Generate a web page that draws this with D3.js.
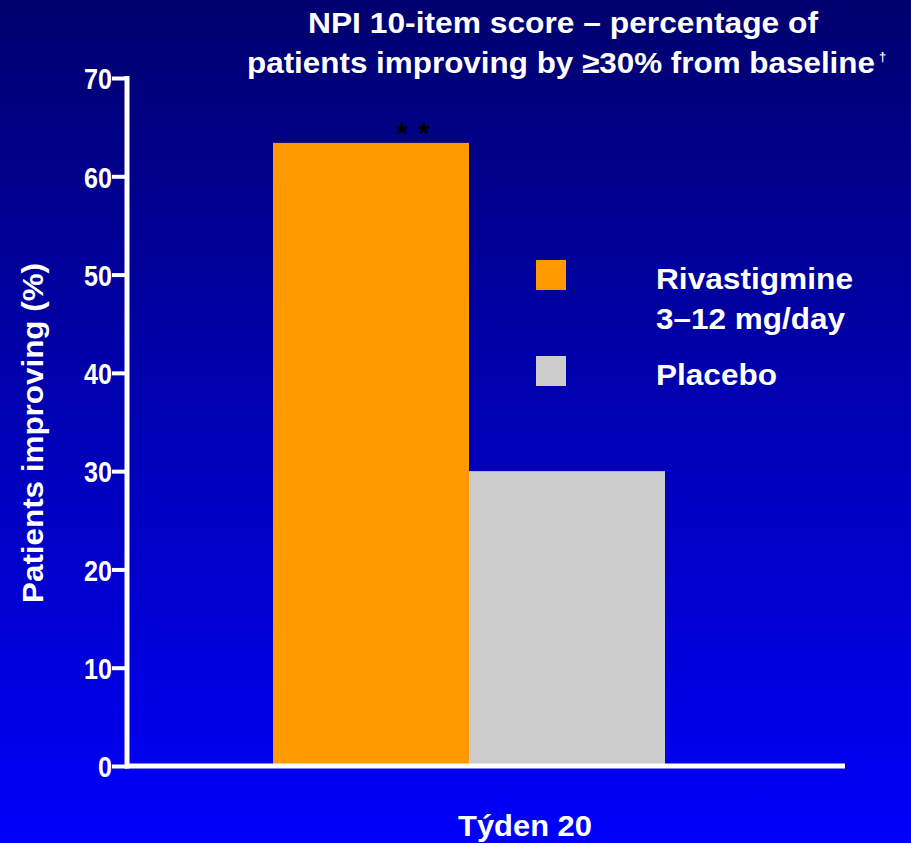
<!DOCTYPE html>
<html>
<head>
<meta charset="utf-8">
<script src="https://cdn.jsdelivr.net/npm/d3@7"></script>
<style>
  html, body { margin: 0; padding: 0; background: #000080; }
  svg { display: block; }
</style>
</head>
<body>
<script>
// Chart data
const categories = ["Rivastigmine 3–12 mg/day", "Placebo"];
const values = [63.4, 30.0];
const colors = ["#FF9900", "#CCCCCC"];
const legendLines = [["Rivastigmine", "3–12 mg/day"], ["Placebo"]];
const yTicks = [0, 10, 20, 30, 40, 50, 60, 70];
const titleLines = ["NPI 10-item score – percentage of", "patients improving by ≥30% from baseline"];
const xLabel = "Týden 20";
const yLabel = "Patients improving (%)";
const significance = ["*", "*"];

const W = 911, H = 843;
const svg = d3.select("body").append("svg").attr("width", W).attr("height", H);

// Background gradient, dark navy at top to bright blue at bottom
const defs = svg.append("defs");
const grad = defs.append("linearGradient").attr("id", "bg").attr("x1", 0).attr("y1", 0).attr("x2", 0).attr("y2", 1);
grad.append("stop").attr("offset", "0%").attr("stop-color", "#00006E");
grad.append("stop").attr("offset", "100%").attr("stop-color", "#0000FA");
svg.append("rect").attr("width", W).attr("height", H).attr("fill", "url(#bg)");

const sans = "'Liberation Sans', Arial, Helvetica, sans-serif";

// Bold white text, stretched to a given width
function label(parent, txt, size, width) {
  const t = parent.append("text")
    .attr("font-family", sans).attr("font-weight", "bold").attr("font-size", size)
    .attr("fill", "#fff").text(txt);
  if (width) t.attr("textLength", width).attr("lengthAdjust", "spacingAndGlyphs");
  return t;
}

// Scales
const y = d3.scaleLinear().domain([0, 70]).range([766, 78]);
const x = d3.scaleBand().domain(categories).range([273, 665]).padding(0);

// Bars
svg.append("g").selectAll("rect").data(categories).join("rect")
  .attr("x", d => x(d))
  .attr("y", (d, i) => y(values[i]))
  .attr("width", x.bandwidth())
  .attr("height", (d, i) => y(0) - y(values[i]))
  .attr("fill", (d, i) => colors[i]);

// Significance marker above the rivastigmine bar
const starX = x(categories[0]) + x.bandwidth() / 2;
significance.forEach((s, i) => {
  svg.append("text")
    .attr("x", starX + 31 + i * 22)
    .attr("y", y(values[0]) + 0)
    .attr("text-anchor", "middle")
    .attr("font-family", sans).attr("font-weight", "bold").attr("font-size", 30)
    .attr("fill", "#000")
    .text(s);
});

// Y axis
const yAxis = d3.axisLeft(y).tickValues(yTicks).tickSize(15).tickPadding(0).tickSizeOuter(0);
const gy = svg.append("g").attr("transform", "translate(127,0)").call(yAxis);
gy.select(".domain").attr("stroke", "#fff").attr("stroke-width", 5).attr("d", `M0,${y(70) - 2}V${y(0) + 2.5}`);
gy.selectAll(".tick line").attr("stroke", "#fff").attr("stroke-width", 4);
gy.selectAll(".tick text")
  .attr("fill", "#fff").attr("font-family", sans).attr("font-weight", "bold").attr("font-size", 30)
  .attr("x", -15).attr("dy", "0.36em")
  .attr("textLength", d => String(d).length * 14)
  .attr("lengthAdjust", "spacingAndGlyphs");

// X axis baseline
svg.append("line")
  .attr("x1", 125).attr("x2", 845)
  .attr("y1", y(0)).attr("y2", y(0))
  .attr("stroke", "#fff").attr("stroke-width", 5);

// Y axis label
label(svg, yLabel, 30, 340)
  .attr("transform", "translate(43,433) rotate(-90)")
  .attr("text-anchor", "middle");

// X axis label
label(svg, xLabel, 29, 134)
  .attr("x", 525).attr("y", 836)
  .attr("text-anchor", "middle");

// Title
label(svg, titleLines[0], 29.5, 510).attr("x", 563).attr("y", 33).attr("text-anchor", "middle");
label(svg, titleLines[1], 29.5, 628).attr("x", 561).attr("y", 73).attr("text-anchor", "middle");
label(svg, "†", 13).attr("x", 879).attr("y", 61);

// Legend
const legend = svg.append("g");
const legendY = [260, 356];
const legendWidths = [[197, 189], [121]];
legendLines.forEach((lines, i) => {
  legend.append("rect")
    .attr("x", 536).attr("y", legendY[i])
    .attr("width", 30).attr("height", 30)
    .attr("fill", colors[i]);
  lines.forEach((ln, j) => {
    label(legend, ln, 29.5, legendWidths[i][j])
      .attr("x", 656).attr("y", legendY[i] + 29 + j * 40);
  });
});
</script>
</body>
</html>
